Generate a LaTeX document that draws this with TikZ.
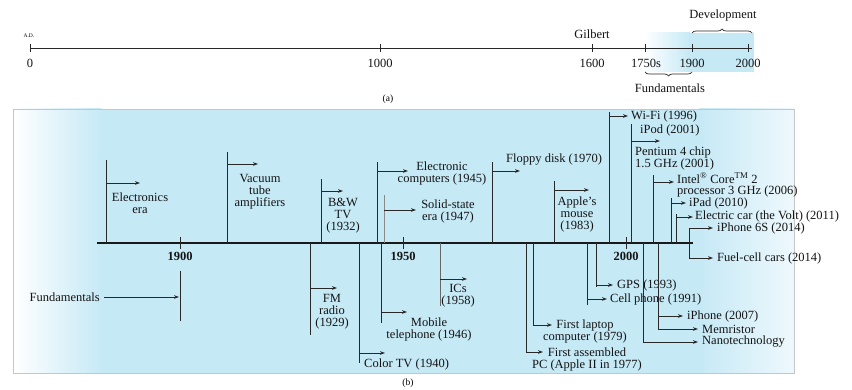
\documentclass[tikz,border=0pt]{standalone}
\usepackage{fontspec}
\setmainfont{Liberation Serif}
\usetikzlibrary{arrows.meta,decorations.pathreplacing}
\definecolor{bgblue}{RGB}{198,233,246}
\definecolor{linec}{RGB}{40,40,40}
% id, x, y end of stem, y of arrow, x of arrow tip
\newcommand\evup[5]{%
  \coordinate (#1b) at (#2,243); \coordinate (#1t) at (#2,#3);
  \coordinate (#1s) at (#2,#4); \coordinate (#1h) at (#5,#4);
  \draw[vl] (#1b) -- (#1t); \draw[ar] (#1s) -- (#1h);}
\begin{document}
\begin{tikzpicture}[x=1pt,y=-1pt,
  txt/.style={font=\fontsize{12.5}{12}\selectfont, inner sep=0pt, align=center, text=black!92},
  txtl/.style={txt, anchor=west, align=left},
  vl/.style={draw=linec, line width=0.9pt},
  ar/.style={draw=linec, line width=0.9pt, -{Stealth[length=5pt,width=3.6pt]}},
  tk/.style={draw=linec, line width=0.7pt},
  yr/.style={font=\bfseries\fontsize{12.5}{12}\selectfont, inner sep=0pt, text=black!92},
  brc/.style={draw=linec, line width=0.7pt, decorate, decoration={brace,amplitude=4pt}}]
\useasboundingbox (0,0) rectangle (852,390);
\fill[white] (0,0) rectangle (852,390);

% ---------------- panel (a)
\fill[left color=white, right color=bgblue] (644,33) rectangle (690,72);
\fill[bgblue] (689.5,33) rectangle (754,72);
\coordinate (a0) at (30,48); \coordinate (a1) at (752,48);
\draw[tk] (a0) -- (a1);
\foreach \x in {30,380,592,645,692,748} \draw[tk] (\x,44) -- (\x,52);
\node[inner sep=0pt, font=\fontsize{5.5}{6}\selectfont] (ad) at (29,36) {A.D.};
\node[txt] (y0) at (30,63) {0};
\node[txt] (y1000) at (380,63) {1000};
\node[txt] (y1600) at (592,63) {1600};
\node[txt] (y1750) at (646,63) {1750s};
\node[txt] (y1900a) at (692,63) {1900};
\node[txt] (y2000a) at (748,63) {2000};
\node[txt] (gil) at (592,34) {Gilbert};
\draw[brc] (692,33) -- (752,33);
\node[txt] (dev) at (723,15) {Development};
\draw[brc, decoration={mirror}] (645,72) -- (692,72);
\node[txt] (funa) at (670,88) {Fundamentals};
\node[inner sep=0pt, font=\fontsize{9.5}{10}\selectfont] (capa) at (388,99) {(a)};

% ---------------- panel (b) background
\fill[bgblue] (13,109) rectangle (794,373);
\fill[left color=white, right color=bgblue] (13,109) rectangle (101,373);
\fill[left color=bgblue, right color=bgblue!30!white] (699,109) rectangle (794,373);
\draw[gray!45, line width=0.6pt] (13,109) rectangle (794,373);
\node[inner sep=0pt, font=\fontsize{9.5}{10}\selectfont] (capb) at (408,383) {(b)};

% axis
\coordinate (x0) at (97,243); \coordinate (x1) at (693,243);
\draw[line width=2.6pt, black!90] (x0) -- (x1);
\foreach \x in {180,403,626} \draw[tk] (\x,237) -- (\x,249);
\node[yr] (k1900) at (180,256) {1900};
\node[yr] (k1950) at (403,256) {1950};
\node[yr] (k2000) at (626,256) {2000};

% ---------------- events above the axis
\evup{ee}{106}{160}{183}{140}
\node[txt] (nee) at (140,203) {Electronics\\era};
\evup{vt}{227}{152}{164}{258}
\node[txt] (nvt) at (260,192) {Vacuum\\tube\\amplifiers};
\evup{bw}{321}{179}{191}{343}
\node[txt] (nbw) at (343,216) {B\&W\\TV\\(1932)};
\evup{ec}{377}{162}{171}{408}
\node[txt] (nec) at (442,173) {Electronic\\computers (1945)};
\begin{scope}[vl/.append style={draw=linec!55}]
\evup{ss}{384}{195}{210}{416}
\end{scope}
\node[txt] (nss) at (448,211) {Solid-state\\era (1947)};
\evup{fd}{492}{162}{171}{520}
\node[txtl] (nfd) at (506,160) {Floppy disk (1970)};
\evup{am}{554}{181}{190}{589}
\node[txt] (nam) at (577,214) {Apple's\\mouse\\(1983)};
\evup{wf}{609}{112}{116}{628}
\node[txtl] (nwf) at (631,116) {Wi-Fi (1996)};
\evup{ip}{631}{124}{141}{660}
\node[txtl] (nip) at (640,130) {iPod (2001)};
\node[txtl] (npe) at (635,158) {Pentium 4 chip\\1.5 GHz (2001)};
\evup{ic}{653}{175}{182}{674}
\node[txtl, font=\fontsize{12.5}{11}\selectfont] (nic) at (677,185) {Intel\textsuperscript{®} Core\textsuperscript{TM} 2\\processor 3 GHz (2006)};
\evup{pd}{671}{198}{203}{686}
\node[txtl] (npd) at (689,203) {iPad (2010)};
\evup{ev}{676}{214}{217}{693}
\node[txtl] (nev) at (695,216) {Electric car (the Volt) (2011)};
\coordinate (p6t) at (689,228); \coordinate (p6b) at (689,258);
\coordinate (p6h) at (713,228); \coordinate (fch) at (713,258);
\draw[vl] (p6t) -- (p6b);
\draw[ar] (p6t) -- (p6h);
\draw[ar] (p6b) -- (fch);
\node[txtl] (np6) at (717,228) {iPhone 6S (2014)};
\node[txtl] (nfc) at (717,258) {Fuel-cell cars (2014)};

% ---------------- events below the axis
\coordinate (fut) at (180,271); \coordinate (fub) at (180,321); \coordinate (fuh) at (179,297);
\draw[vl] (fut) -- (fub);
\node[txt, anchor=east] (nfu) at (100,297) {Fundamentals};
\draw[ar] ([xshift=4pt]nfu.east) -- (fuh);
\evup{fm}{310}{335}{288}{337}
\node[txt] (nfm) at (332,312) {FM\\radio\\(1929)};
\evup{ct}{359}{363}{353}{385}
\node[txtl] (nct) at (364,364) {Color TV (1940)};
\evup{mt}{381}{323}{312}{407}
\node[txt] (nmt) at (429,329) {Mobile\\telephone (1946)};
\begin{scope}[vl/.append style={draw=linec!70}]
\evup{ics}{440}{306}{279}{467}
\end{scope}
\node[txt] (nics) at (458,296) {ICs\\(1958)};
\evup{pc}{526}{352}{352}{543}
\node[txt] (npc) at (587,359) {First assembled\\PC (Apple II in 1977)};
\evup{lt}{533}{325}{325}{552}
\node[txt] (nlt) at (585,331) {First laptop\\computer (1979)};
\evup{cp}{587}{305}{299}{607}
\node[txtl] (ncp) at (610,299) {Cell phone (1991)};
\evup{gps}{596}{287}{285}{613}
\node[txtl] (ngps) at (617,285) {GPS (1993)};
\evup{na}{643}{342}{342}{698}
\node[txtl] (nna) at (702,342) {Nanotechnology};
\evup{me}{658}{329}{329}{698}
\node[txtl] (nme) at (702,329) {Memristor};
\coordinate (ipas) at (658,316); \coordinate (ipah) at (683,316);
\draw[ar] (ipas) -- (ipah);
\node[txtl] (nipa) at (687,316) {iPhone (2007)};
\end{tikzpicture}
\end{document}
